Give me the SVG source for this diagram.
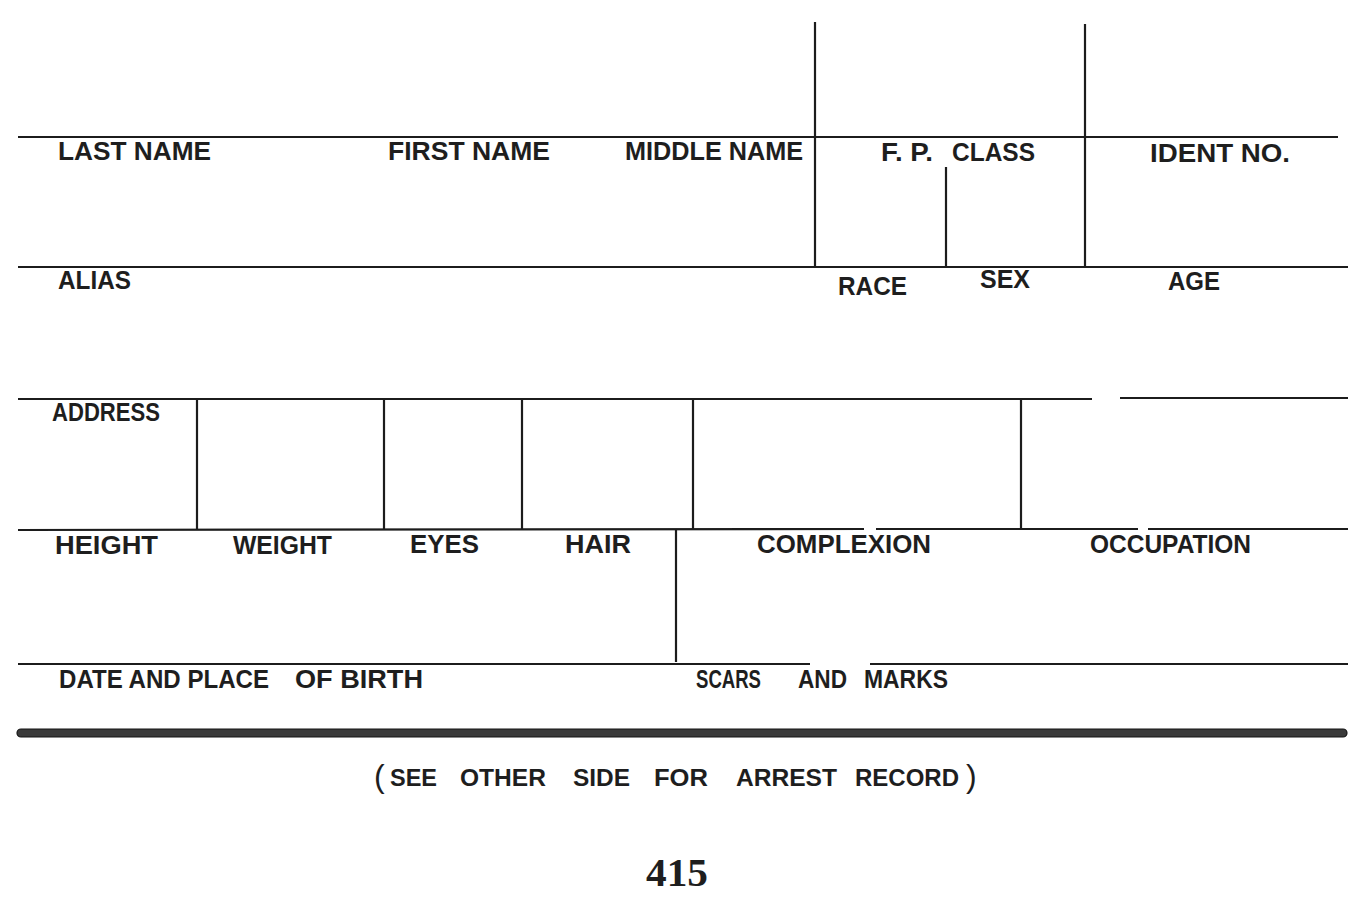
<svg xmlns="http://www.w3.org/2000/svg" width="1367" height="905" viewBox="0 0 1367 905">
<style>
.ln{stroke:#1c1c1c;stroke-width:2.2;fill:none;stroke-linecap:butt}
.lb{font-family:"Liberation Sans",Arial,sans-serif;font-weight:bold;font-size:26px;fill:#1e1e1e}
.ft{font-family:"Liberation Sans",Arial,sans-serif;font-weight:bold;font-size:24px;fill:#1e1e1e}
.pr{font-family:"Liberation Sans",Arial,sans-serif;font-size:32px;fill:#1e1e1e}
.pg{font-family:"Liberation Serif","Times New Roman",serif;font-weight:bold;font-size:40px;fill:#1e1e1e}
</style>
<rect x="0" y="0" width="1367" height="905" fill="#ffffff"/>
<g id="rules">
<line class="ln" x1="18" y1="137" x2="1338" y2="137"/>
<line class="ln" x1="18" y1="267" x2="1348" y2="267"/>
<line class="ln" x1="18" y1="399" x2="1092" y2="399"/>
<line class="ln" x1="1120" y1="398" x2="1348" y2="398"/>
<line class="ln" x1="18" y1="530" x2="864" y2="529"/>
<line class="ln" x1="876" y1="529" x2="1138" y2="529"/>
<line class="ln" x1="1148" y1="529" x2="1348" y2="529"/>
<line class="ln" x1="18" y1="664" x2="810" y2="664"/>
<line class="ln" x1="870" y1="664" x2="1348" y2="664"/>
<line class="ln" x1="815" y1="22" x2="815" y2="267"/>
<line class="ln" x1="1085" y1="24" x2="1085" y2="267"/>
<line class="ln" x1="946" y1="167" x2="946" y2="267"/>
<line class="ln" x1="197" y1="399" x2="197" y2="530"/>
<line class="ln" x1="384" y1="399" x2="384" y2="530"/>
<line class="ln" x1="522" y1="399" x2="522" y2="530"/>
<line class="ln" x1="693" y1="399" x2="693" y2="530"/>
<line class="ln" x1="1021" y1="399" x2="1021" y2="529"/>
<line class="ln" x1="676" y1="530" x2="676" y2="662"/>
<rect x="17" y="729" width="1330" height="8" rx="4" fill="#3a3a3a" stroke="#151515" stroke-width="1.2"/>
</g>
<g id="row1">
<text class="lb" x="58" y="160" textLength="153" lengthAdjust="spacingAndGlyphs">LAST NAME</text>
<text class="lb" x="388" y="160" textLength="162" lengthAdjust="spacingAndGlyphs">FIRST NAME</text>
<text class="lb" x="625" y="160" textLength="178" lengthAdjust="spacingAndGlyphs">MIDDLE NAME</text>
<text class="lb" x="881" y="161" textLength="52" lengthAdjust="spacingAndGlyphs">F. P.</text>
<text class="lb" x="952" y="161" textLength="83" lengthAdjust="spacingAndGlyphs">CLASS</text>
<text class="lb" x="1150" y="162" textLength="140" lengthAdjust="spacingAndGlyphs">IDENT NO.</text>
</g>
<g id="row2">
<text class="lb" x="58" y="289" textLength="73" lengthAdjust="spacingAndGlyphs">ALIAS</text>
<text class="lb" x="838" y="295" textLength="69" lengthAdjust="spacingAndGlyphs">RACE</text>
<text class="lb" x="980" y="288" textLength="50" lengthAdjust="spacingAndGlyphs">SEX</text>
<text class="lb" x="1168" y="290" textLength="52" lengthAdjust="spacingAndGlyphs">AGE</text>
</g>
<g id="row3">
<text class="lb" x="52" y="421" textLength="108" lengthAdjust="spacingAndGlyphs">ADDRESS</text>
</g>
<g id="row4">
<text class="lb" x="55" y="554" textLength="103" lengthAdjust="spacingAndGlyphs">HEIGHT</text>
<text class="lb" x="233" y="554" textLength="99" lengthAdjust="spacingAndGlyphs">WEIGHT</text>
<text class="lb" x="410" y="553" textLength="69" lengthAdjust="spacingAndGlyphs">EYES</text>
<text class="lb" x="565" y="553" textLength="66" lengthAdjust="spacingAndGlyphs">HAIR</text>
<text class="lb" x="757" y="553" textLength="174" lengthAdjust="spacingAndGlyphs">COMPLEXION</text>
<text class="lb" x="1090" y="553" textLength="161" lengthAdjust="spacingAndGlyphs">OCCUPATION</text>
</g>
<g id="row5">
<text class="lb" x="59" y="688" textLength="210" lengthAdjust="spacingAndGlyphs">DATE AND PLACE</text>
<text class="lb" x="295" y="688" textLength="128" lengthAdjust="spacingAndGlyphs">OF BIRTH</text>
<text class="lb" x="696" y="688" textLength="65" lengthAdjust="spacingAndGlyphs">SCARS</text>
<text class="lb" x="798" y="688" textLength="49" lengthAdjust="spacingAndGlyphs">AND</text>
<text class="lb" x="864" y="688" textLength="84" lengthAdjust="spacingAndGlyphs">MARKS</text>
</g>
<g id="footer">
<text class="pr" x="374" y="787">(</text>
<text class="ft" x="390" y="786" textLength="47" lengthAdjust="spacingAndGlyphs">SEE</text>
<text class="ft" x="460" y="786" textLength="86" lengthAdjust="spacingAndGlyphs">OTHER</text>
<text class="ft" x="573" y="786" textLength="57" lengthAdjust="spacingAndGlyphs">SIDE</text>
<text class="ft" x="654" y="786" textLength="54" lengthAdjust="spacingAndGlyphs">FOR</text>
<text class="ft" x="736" y="786" textLength="101" lengthAdjust="spacingAndGlyphs">ARREST</text>
<text class="ft" x="855" y="786" textLength="104" lengthAdjust="spacingAndGlyphs">RECORD</text>
<text class="pr" x="966" y="787">)</text>
<text class="pg" x="646" y="886" textLength="62" lengthAdjust="spacingAndGlyphs">415</text>
</g>
</svg>
